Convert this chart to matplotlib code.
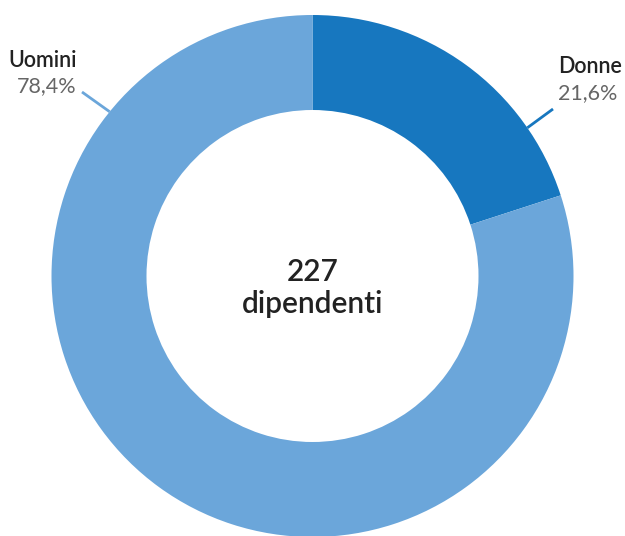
import numpy as np
import matplotlib
matplotlib.use("Agg")
import matplotlib.pyplot as plt

# dati
categorie = ["Donne", "Uomini"]
quote = [20.0, 80.0]          # ampiezza degli spicchi
etichette_pct = ["21,6%", "78,4%"]
totale = "227"
testo_centro = "dipendenti"

colori = ["#1777bf", "#6ba6da"]

plt.rcParams['font.family'] = ['Lato', 'DejaVu Sans']

W, H = 625, 536
fig = plt.figure(figsize=(W / 100, H / 100), dpi=100)
ax = fig.add_axes([0, 0, 1, 1])

cx, cy = 312.5, H - 276
R = 261
r_int = 166

ax.pie(quote, colors=colori, startangle=90, counterclock=False,
       radius=R, center=(cx, cy), frame=True,
       wedgeprops=dict(width=R - r_int, linewidth=0))
ax.set_xlim(0, W)
ax.set_ylim(0, H)
ax.set_aspect('equal')
ax.axis('off')

# linee guida verso le etichette (angolo sul bordo, punto finale)
guide = {
    "Donne": (34.6, (553, H - 109)),
    "Uomini": (141.0, (82, H - 92)),
}
for i, cat in enumerate(categorie):
    ang, (x2, y2) = guide[cat]
    x1 = cx + R * np.cos(np.radians(ang))
    y1 = cy + R * np.sin(np.radians(ang))
    ax.plot([x1, x2], [y1, y2], color=colori[i], lw=2, solid_capstyle='butt')

# etichette
pos = {"Donne": (558, "left"), "Uomini": (77, "right")}
ytit = {"Donne": H - 73, "Uomini": H - 67}
ypct = {"Donne": H - 99, "Uomini": H - 92}
for i, cat in enumerate(categorie):
    x, ha = pos[cat]
    ax.text(x, ytit[cat], cat, ha=ha, va='baseline', fontsize=15.5,
            color='#222222', fontweight='semibold')
    ax.text(x, ypct[cat], etichette_pct[i], ha=ha, va='baseline',
            fontsize=15.5, color='#666666')

ax.text(cx, H - 281, totale, ha='center', va='baseline', fontsize=21.5,
        color='#222222', fontweight='semibold')
ax.text(cx, H - 313, testo_centro, ha='center', va='baseline', fontsize=21.5,
        color='#222222', fontweight='semibold')

fig.savefig("out.png", dpi=100, facecolor='white')
